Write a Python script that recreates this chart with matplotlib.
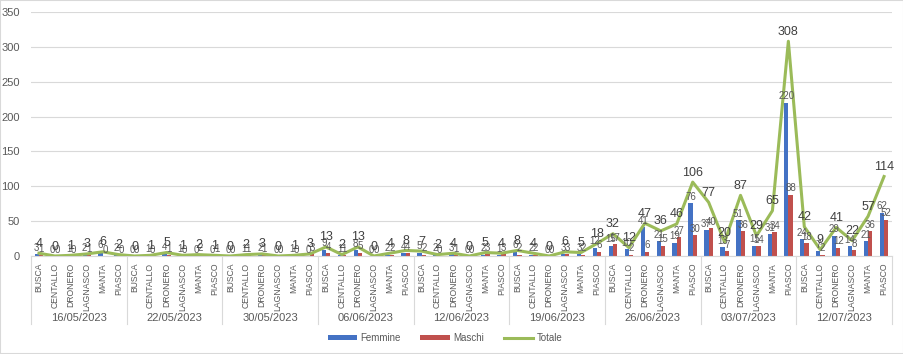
import matplotlib.pyplot as plt
import numpy as np
from matplotlib.patches import Rectangle

plt.rcParams["font.family"] = ["Liberation Sans", "DejaVu Sans"]

dates = ["16/05/2023", "22/05/2023", "30/05/2023", "06/06/2023", "12/06/2023",
         "19/06/2023", "26/06/2023", "03/07/2023", "12/07/2023"]
towns = ["BUSCA", "CENTALLO", "DRONERO", "LAGNASCO", "MANTA", "PIASCO"]

femmine = [3, 0, 1, 2, 6, 2,
           0, 1, 4, 1, 0, 0,
           0, 1, 2, 0, 1, 0,
           9, 1, 8, 0, 2, 4,
           5, 2, 3, 0, 2, 1,
           6, 2, 0, 3, 3, 12,
           15, 10, 41, 21, 19, 76,
           37, 13, 51, 15, 31, 220,
           24, 7, 29, 14, 21, 62]
maschi = [1, 0, 0, 1, 0, 0,
          0, 0, 1, 0, 2, 1,
          0, 1, 1, 0, 0, 3,
          4, 1, 5, 0, 2, 4,
          2, 0, 1, 0, 3, 3,
          2, 2, 0, 3, 2, 6,
          17, 2, 6, 15, 27, 30,
          40, 7, 36, 14, 34, 88,
          18, 2, 12, 8, 36, 52]
totale = [4, 0, 1, 3, 6, 2,
          0, 1, 5, 1, 2, 1,
          0, 2, 3, 0, 1, 3,
          13, 2, 13, 0, 4, 8,
          7, 2, 4, 0, 5, 4,
          8, 4, 0, 6, 5, 18,
          32, 12, 47, 36, 46, 106,
          77, 20, 87, 29, 65, 308,
          42, 9, 41, 22, 57, 114]

blue = "#4472C4"
red = "#C0504D"
green = "#9BBB59"
grey = "#595959"

fig = plt.figure(figsize=(9.04, 3.54), dpi=100)
ax = fig.add_axes([31 / 904, 1 - 256 / 354, 861 / 904, 244 / 354])

n = len(totale)
x = np.arange(n)
w = 0.27
b1 = ax.bar(x - w / 2, femmine, w, color=blue, label="Femmine", zorder=2)
b2 = ax.bar(x + w / 2, maschi, w, color=red, label="Maschi", zorder=2)
l1, = ax.plot(x, totale, color=green, lw=2.2, label="Totale", zorder=3)

for i in range(n):
    ax.text(x[i] - w / 2, femmine[i] + 2, str(femmine[i]), ha="center", va="bottom",
            fontsize=7, color=grey, zorder=4)
    ax.text(x[i] + w / 2, maschi[i] + 2, str(maschi[i]), ha="center", va="bottom",
            fontsize=7, color=grey, zorder=4)
    ax.text(x[i], totale[i] + 5, str(totale[i]), ha="center", va="bottom",
            fontsize=9, color="#404040", zorder=4)

ax.set_xlim(-0.5, n - 0.5)
ax.set_ylim(0, 350)
ax.set_yticks(np.arange(0, 351, 50))
ax.yaxis.grid(True, color="#D9D9D9", lw=0.8, zorder=0)
ax.tick_params(axis="y", length=0, labelsize=8, labelcolor=grey, pad=8)
for s in ["top", "right", "left"]:
    ax.spines[s].set_visible(False)
ax.spines["bottom"].set_color("#D9D9D9")

ax.set_xticks(x)
ax.set_xticklabels(towns * len(dates), rotation=90, fontsize=6.2, color=grey)
ax.tick_params(axis="x", length=0, pad=5)

# group labels and separators
trans = ax.get_xaxis_transform()
for g, d in enumerate(dates):
    ax.text(g * 6 + 2.5, -62 / 244, d, transform=trans, ha="center", va="center",
            fontsize=8, color=grey)
for g in range(len(dates) + 1):
    ax.plot([g * 6 - 0.5, g * 6 - 0.5], [0, -68 / 244], transform=trans,
            color="#D9D9D9", lw=0.8, clip_on=False)

fig.legend([b1, b2, l1], ["Femmine", "Maschi", "Totale"], loc="center",
           bbox_to_anchor=(445 / 904, 1 - 338 / 354), ncol=3,
           frameon=False, fontsize=7, labelcolor=grey, handlelength=3.0,
           handleheight=0.5, columnspacing=2.0, handletextpad=0.4)

fig.patches.append(Rectangle((0, 0), 1, 1, transform=fig.transFigure,
                             fill=False, edgecolor="#D9D9D9", lw=1.5))

fig.savefig("out.png", dpi=100)
